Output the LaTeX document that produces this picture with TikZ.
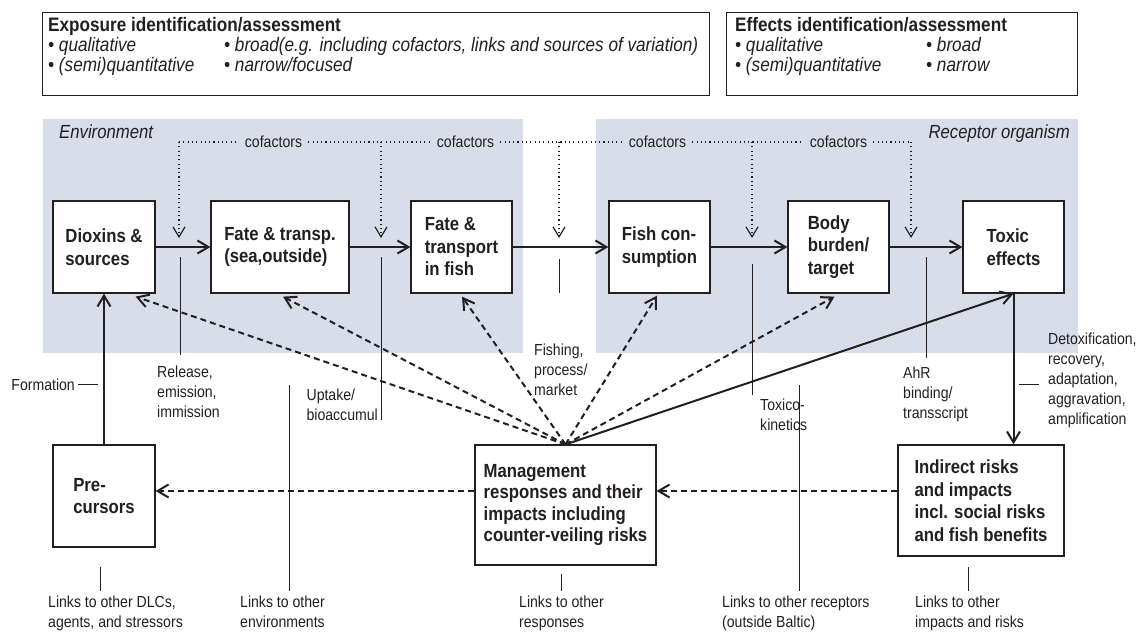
\documentclass[tikz,border=0pt]{standalone}
\usepackage{fontspec}
\setmainfont{Liberation Sans}[FakeStretch=0.88]
\usetikzlibrary{arrows.meta,calc}
\definecolor{zone}{RGB}{216,221,234}
\definecolor{ink}{RGB}{35,31,32}

\begin{document}
\begin{tikzpicture}[x=1pt,y=-1pt,
  every node/.style={text=ink},
  lbl/.style={font=\fontsize{16}{20}\selectfont, align=left, inner sep=0pt},
  headbox/.style={draw=ink, line width=1.2pt, inner sep=0pt, anchor=north west},
  headtitle/.style={font=\fontsize{19.5}{22}\selectfont\bfseries, inner sep=0pt, anchor=base west},
  bullet/.style={font=\fontsize{19.5}{22}\selectfont\itshape, inner sep=0pt, anchor=base west},
  zonename/.style={font=\fontsize{19}{22}\selectfont\itshape, inner sep=0pt},
  stage/.style={draw=ink, line width=1.2pt, fill=white, align=left, inner sep=0pt,
                font=\fontsize{19}{22.5}\selectfont\bfseries},
  flow/.style={draw=ink, line width=2pt, -{Straight Barb[length=11pt,width=13pt]}},
  mgmtlink/.style={flow, dash pattern=on 6pt off 4pt},
  cofline/.style={draw=ink, line width=1.1pt, dash pattern=on 1.1pt off 3.2pt},
  cofdrop/.style={cofline, -{Straight Barb[length=10pt,width=12pt,line width=1.2pt]}},
  coflabel/.style={font=\fontsize{16}{20}\selectfont, inner xsep=6pt, inner ysep=0pt},
  tick/.style={draw=ink, line width=1pt},
]
\useasboundingbox (0,0) rectangle (1142,633);

% shaded domains
\fill[zone] (43,119) rectangle (523,353);
\fill[zone] (596,119) rectangle (1078,353);
\node[zonename, anchor=base west] (envname) at (59,138) {Environment};
\node[zonename, anchor=base east] (recname) at (1070,138) {Receptor organism};

% assessment boxes
\node[headbox, minimum width=667pt, minimum height=83pt] (expo) at (42,12) {};
\node[headtitle] (expotitle) at (48,31) {Exposure identification/assessment};
\node[bullet] (expoa) at (48,51) {• qualitative};
\node[bullet] (expob) at (48,71) {• (semi)quantitative};
\node[bullet] (expoc) at (224,51) {• broad(e.g. including cofactors, links and sources of variation)};
\node[bullet] (expod) at (224,71) {• narrow/focused};

\node[headbox, minimum width=351pt, minimum height=83pt] (eff) at (726,12) {};
\node[headtitle] (efftitle) at (735,31) {Effects identification/assessment};
\node[bullet] (effa) at (735,51) {• qualitative};
\node[bullet] (effb) at (735,71) {• (semi)quantitative};
\node[bullet] (effc) at (926,51) {• broad};
\node[bullet] (effd) at (926,71) {• narrow};

% causal chain
\node[stage, minimum width=102pt, minimum height=92pt] (dioxins) at (104,247) {Dioxins \&\\sources};
\node[stage, minimum width=138pt, minimum height=92pt] (fate) at (280,247) {Fate \& transp.\\(sea,outside)};
\node[stage, minimum width=101pt, minimum height=92pt] (fish) at (461.5,247) {Fate \&\\transport\\in fish};
\node[stage, minimum width=101pt, minimum height=92pt] (cons) at (659.5,247) {Fish con-\\sumption};
\node[stage, minimum width=101pt, minimum height=92pt] (body) at (838.5,247) {Body\\burden/\\target};
\node[stage, minimum width=101pt, minimum height=92pt] (toxic) at (1013.5,247) {Toxic\\effects};

\node[stage, minimum width=102pt, minimum height=102pt] (pre) at (104,496) {Pre-\\cursors};
\node[stage, minimum width=181pt, minimum height=120pt, font=\fontsize{19}{21.5}\selectfont\bfseries] (mgmt) at (565.5,505)
  {Management\\responses and their\\impacts including\\counter-veiling risks};
\node[stage, minimum width=166pt, minimum height=111pt] (indirect) at (981,500.5)
  {Indirect risks\\and impacts\\incl. social risks\\and fish benefits};

\draw[flow] (dioxins.east) -- (fate.west);
\draw[flow] (fate.east) -- (fish.west);
\draw[flow] (fish.east) -- (cons.west);
\draw[flow] (cons.east) -- (body.west);
\draw[flow] (body.east) -- (toxic.west);
\draw[flow] (pre.north) -- (dioxins.south);
\draw[flow] (toxic.south) -- (toxic.south |- indirect.north);
\draw[flow] (mgmt.north) -- (toxic.south);

% management feedbacks
\draw[mgmtlink] (mgmt.north) -- ($(dioxins.south east)+(-20,3)$);
\draw[mgmtlink] (mgmt.north) -- ($(fate.south)+(3,3)$);
\draw[mgmtlink] (mgmt.north) -- ($(fish.south)+(0.5,3)$);
\draw[mgmtlink] (mgmt.north) -- ($(cons.south)+(-2.5,2)$);
\draw[mgmtlink] (mgmt.north) -- ($(body.south)+(-4,3)$);
\coordinate (row) at (0,491);
\draw[mgmtlink] (indirect.west |- row) -- (mgmt.east |- row);
\draw[mgmtlink] (mgmt.west |- row) -- (pre.east |- row);

% cofactors
\coordinate (tipy) at (0,238);
\coordinate (d1) at (179,142);
\coordinate (d2) at (381,142);
\coordinate (d3) at (559,142);
\coordinate (d4) at (752,142);
\coordinate (d5) at (911,142);
\node[coflabel] (cof1) at (273.5,142) {cofactors};
\node[coflabel] (cof2) at (465.5,142) {cofactors};
\node[coflabel] (cof3) at (657.5,142) {cofactors};
\node[coflabel] (cof4) at (838.5,142) {cofactors};
\draw[cofline] (d1) -- (cof1.west);
\draw[cofline] (cof1.east) -- (cof2.west);
\draw[cofline] (cof2.east) -- (cof3.west);
\draw[cofline] (cof3.east) -- (cof4.west);
\draw[cofline] (cof4.east) -- (d5);
\foreach \d in {d1,d2,d3,d4,d5} \draw[cofdrop] (\d) -- (\d |- tipy);

% process labels
\draw[tick] (180,257) -- (180,355);
\node[lbl, anchor=north west] (release) at (157,366) {Release,\\emission,\\immission};
\draw[tick] (381,257) -- (381,420);
\node[lbl, anchor=north east] (uptake) at (378,389) {Uptake/\\bioaccumul};
\draw[tick] (559,259) -- (559,293);
\node[lbl, anchor=north west] (fishing) at (534,344) {Fishing,\\process/\\market};
\draw[tick] (752,264) -- (752,395);
\node[lbl, anchor=north west] (toxico) at (760,399) {Toxico-\\kinetics};
\draw[tick] (926,257) -- (926,358);
\node[lbl, anchor=north west] (ahr) at (903,367) {AhR\\binding/\\transscript};
\draw[tick] (1019,384) -- (1039,384);
\node[lbl, anchor=north west] (detox) at (1048,333) {Detoxification,\\recovery,\\adaptation,\\aggravation,\\amplification};
\draw[tick] (78,384) -- (98,384);
\node[lbl, anchor=base east] (formation) at (75,390) {Formation};

% outward links
\draw[tick] (100,567) -- (100,591);
\node[lbl, anchor=north west] (linkdlc) at (48,596) {Links to other DLCs,\\agents, and stressors};
\draw[tick] (289,385) -- (289,591);
\node[lbl, anchor=north west] (linkenv) at (240,596) {Links to other\\environments};
\draw[tick] (561,574) -- (561,591);
\node[lbl, anchor=north west] (linkresp) at (519,596) {Links to other\\responses};
\draw[tick] (799,385) -- (799,591);
\node[lbl, anchor=north west] (linkrec) at (722,596) {Links to other receptors\\(outside Baltic)};
\draw[tick] (968,567) -- (968,591);
\node[lbl, anchor=north west] (linkimp) at (915,596) {Links to other\\impacts and risks};
\end{tikzpicture}
\end{document}
